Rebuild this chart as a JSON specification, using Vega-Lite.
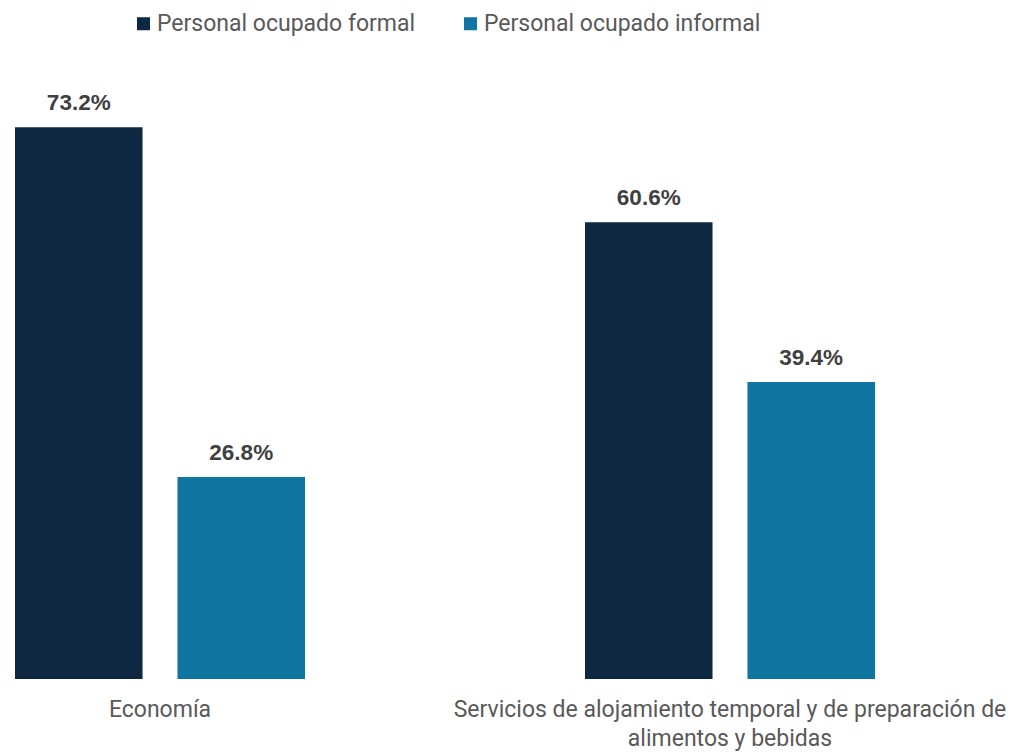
{
  "$schema": "https://vega.github.io/schema/vega-lite/v6.json",
  "width": 860,
  "height": 603,
  "autosize": {"type": "none"},
  "padding": {"left": 15, "top": 76, "right": 141, "bottom": 73},
  "background": "white",
  "config": {"view": {"stroke": null}},
  "data": {
    "values": [
      {"categoria": "Economía", "serie": "Personal ocupado formal", "valor": 73.2},
      {"categoria": "Economía", "serie": "Personal ocupado informal", "valor": 26.8},
      {"categoria": "Servicios de alojamiento temporal y de preparación de alimentos y bebidas", "serie": "Personal ocupado formal", "valor": 60.6},
      {"categoria": "Servicios de alojamiento temporal y de preparación de alimentos y bebidas", "serie": "Personal ocupado informal", "valor": 39.4}
    ]
  },
  "encoding": {
    "x": {
      "field": "categoria",
      "type": "nominal",
      "sort": null,
      "scale": {"paddingInner": 0.4912, "paddingOuter": 0},
      "axis": {
        "title": null,
        "domain": false,
        "ticks": false,
        "labelAngle": 0,
        "labelFont": "Roboto",
        "labelFontSize": 23,
        "labelColor": "#595959",
        "labelPadding": 19,
        "labelLimit": 0,
        "labelOverlap": false,
        "labelLineHeight": 29,
        "labelExpr": "datum.value == 'Economía' ? datum.value : ['Servicios de alojamiento temporal y de preparación de', 'alimentos y bebidas']"
      }
    },
    "xOffset": {
      "field": "serie",
      "type": "nominal",
      "scale": {"paddingInner": 0.215, "paddingOuter": 0}
    },
    "y": {
      "field": "valor",
      "type": "quantitative",
      "scale": {"domain": [0, 80]},
      "axis": null
    }
  },
  "layer": [
    {
      "mark": {"type": "bar"},
      "encoding": {
        "color": {
          "field": "serie",
          "type": "nominal",
          "scale": {"range": ["#0E2841", "#0E76A0"]},
          "legend": {
            "title": null,
            "orient": "none",
            "legendX": 117,
            "legendY": -64,
            "direction": "horizontal",
            "symbolType": "square",
            "symbolSize": 169,
            "symbolStrokeWidth": 0,
            "labelFont": "Roboto",
            "labelFontSize": 23,
            "labelColor": "#595959",
            "labelOffset": 2,
            "columnPadding": 43,
            "labelLimit": 0
          }
        }
      }
    },
    {
      "transform": [
        {"calculate": "format(datum.valor, '.1f') + '%'", "as": "etiqueta"}
      ],
      "mark": {
        "type": "text",
        "font": "Liberation Sans",
        "fontWeight": "bold",
        "fontSize": 22.5,
        "color": "#404040",
        "baseline": "alphabetic",
        "dy": -17
      },
      "encoding": {
        "text": {"field": "etiqueta", "type": "nominal"}
      }
    }
  ]
}
